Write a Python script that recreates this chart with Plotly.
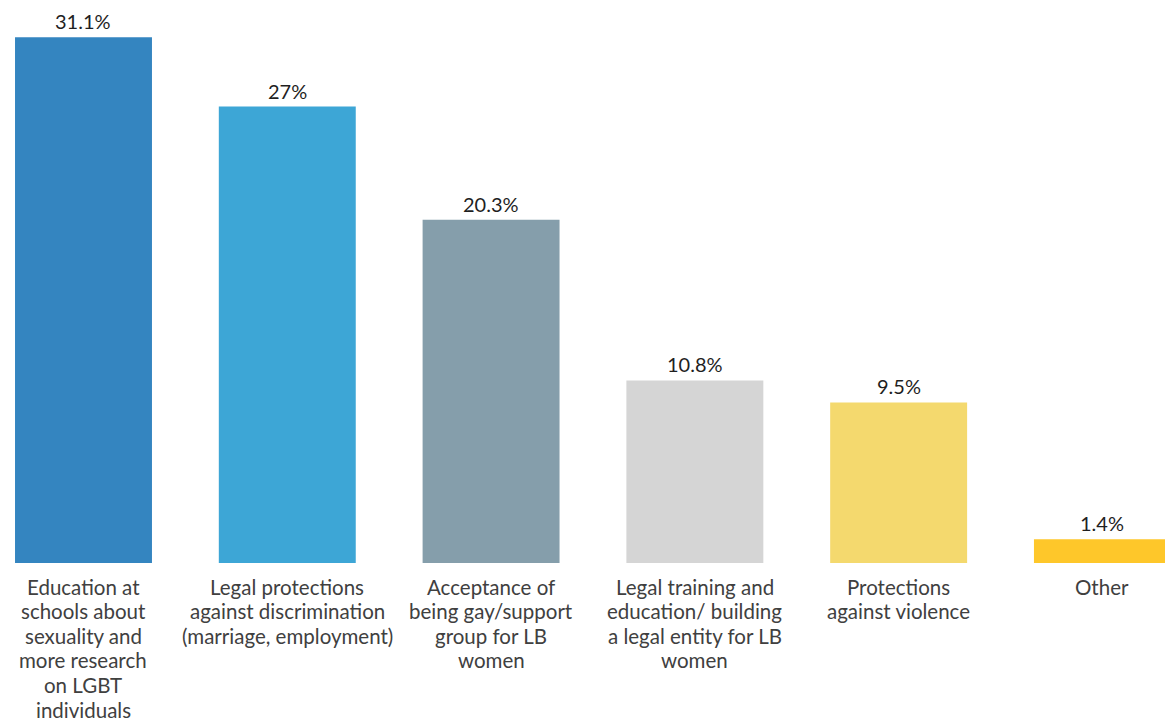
import plotly.graph_objects as go

# Category names, one list of wrapped lines per bar
category_lines = [
    ["Education at", "schools about", "sexuality and", "more research", "on LGBT", "individuals"],
    ["Legal protections", "against discrimination", "(marriage, employment)"],
    ["Acceptance of", "being gay/support", "group for LB", "women"],
    ["Legal training and", "education/ building", "a legal entity for LB", "women"],
    ["Protections", "against violence"],
    ["Other"],
]
values = [31.1, 27, 20.3, 10.8, 9.5, 1.4]
value_labels = ["31.1%", "27%", "20.3%", "10.8%", "9.5%", "1.4%"]
bar_colors = ["#3485C0", "#3DA6D6", "#859EAB", "#D5D5D5", "#F4D96E", "#FEC72A"]

x_pos = list(range(len(values)))

fig = go.Figure(
    go.Bar(
        x=x_pos,
        y=values,
        width=0.672,
        marker=dict(color=bar_colors, line=dict(width=0)),
        hoverinfo="skip",
    )
)

# Percentage labels above each bar
for xi, v, lab in zip(x_pos, values, value_labels):
    fig.add_annotation(
        x=xi, y=v, text=lab, showarrow=False,
        xanchor="center", yanchor="bottom", yshift=2,
        font=dict(family="Lato", size=20, color="#1f1f1f"),
    )

# Category names under the baseline, line by line
LINE_STEP = 24.6
for xi, lines in zip(x_pos, category_lines):
    for i, line in enumerate(lines):
        fig.add_annotation(
            x=xi, y=0, text=line, showarrow=False,
            xanchor="center", yanchor="middle", borderpad=0,
            yshift=-23.5 - LINE_STEP * i,
            font=dict(family="Lato", size=20.5, color="#404040"),
        )

fig.update_layout(
    width=1165, height=723,
    margin=dict(l=0, r=0, t=0, b=160),
    paper_bgcolor="white", plot_bgcolor="white",
    showlegend=False,
    font=dict(family="Lato"),
    xaxis=dict(
        range=[-0.4097, 5.307],
        showticklabels=False,
        showgrid=False, zeroline=False, showline=False, ticks="",
    ),
    yaxis=dict(
        range=[0, 33.3], visible=False, showgrid=False, zeroline=False,
    ),
)

fig.write_html("out.html")
